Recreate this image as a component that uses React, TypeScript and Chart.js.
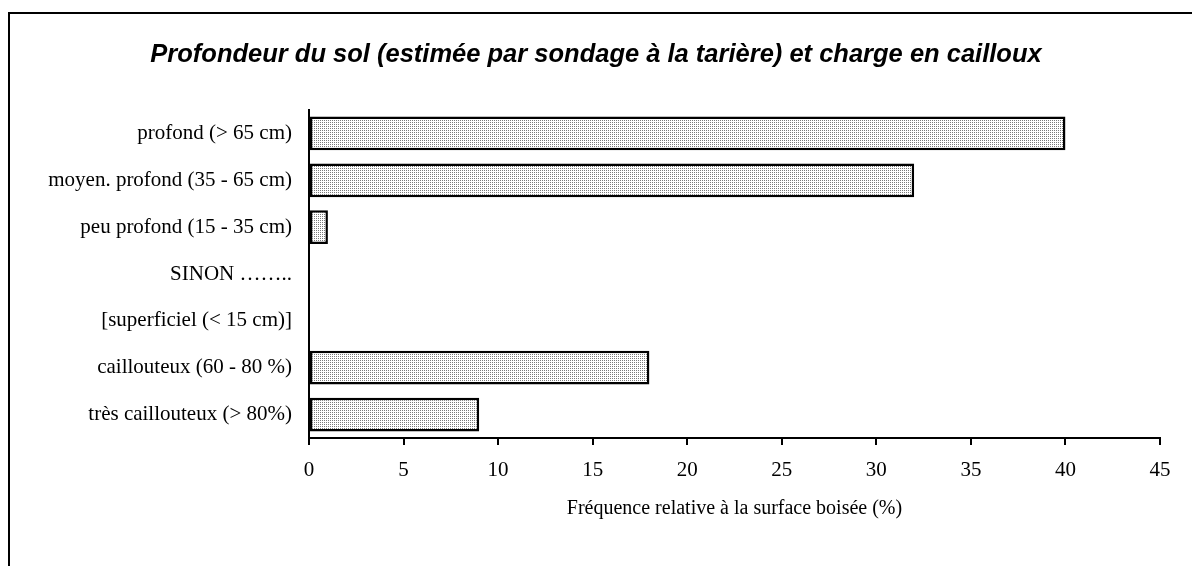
import React, { useEffect, useRef } from "react";
import { Chart, registerables } from "chart.js";

Chart.register(...registerables);

const chartTitle = "Profondeur du sol (estimée par sondage à la tarière) et charge en cailloux";
const xAxisTitle = "Fréquence relative à la surface boisée (%)";
const categories = [
  "profond (> 65 cm)",
  "moyen. profond (35 - 65 cm)",
  "peu profond (15 - 35 cm)",
  "SINON ……..",
  "[superficiel (< 15 cm)]",
  "caillouteux (60 - 80 %)",
  "très caillouteux (> 80%)",
];
const frequencies = [40, 32, 1, 0, 0, 18, 9];
const xMin = 0;
const xMax = 45;
const xStep = 5;

function makePattern(): CanvasPattern | string {
  const c = document.createElement("canvas");
  c.width = 2;
  c.height = 2;
  const ctx = c.getContext("2d");
  if (!ctx) return "#d8d8d8";
  ctx.fillStyle = "#ffffff";
  ctx.fillRect(0, 0, 2, 2);
  ctx.fillStyle = "#7a7a7a";
  ctx.fillRect(0, 0, 1, 1);
  const p = ctx.createPattern(c, "repeat");
  return p || "#d8d8d8";
}

export default function App() {
  const canvasRef = useRef<HTMLCanvasElement | null>(null);

  useEffect(() => {
    const canvas = canvasRef.current;
    if (!canvas) return;
    const serif = "'Liberation Serif', 'Times New Roman', serif";
    const chart = new Chart(canvas, {
      type: "bar",
      data: {
        labels: categories,
        datasets: [
          {
            data: frequencies,
            backgroundColor: makePattern() as any,
            borderColor: "#000000",
            borderWidth: 2.5,
            borderSkipped: false,
            barPercentage: 0.72,
            categoryPercentage: 1,
          },
        ],
      },
      options: {
        indexAxis: "y",
        responsive: false,
        animation: false,
        devicePixelRatio: 1,
        layout: { padding: { left: 32, right: 32, top: 0, bottom: 0 } },
        plugins: {
          legend: { display: false },
          tooltip: { enabled: false },
          title: {
            display: true,
            text: chartTitle,
            color: "#000000",
            font: { family: "'Liberation Sans', Arial, sans-serif", size: 25.5, weight: "bold", style: "italic" },
            padding: { top: 39.7, bottom: 39.7 },
          },
        },
        scales: {
          x: {
            type: "linear",
            min: xMin,
            max: xMax,
            afterFit: (scale: any) => {
              scale.height = 128;
            },
            ticks: {
              stepSize: xStep,
              color: "#000000",
              padding: 13,
              font: { family: serif, size: 21 },
            },
            grid: {
              display: true,
              drawOnChartArea: false,
              drawTicks: true,
              tickLength: 7,
              color: "#000000",
              lineWidth: 2,
            },
            border: { display: true, color: "#000000", width: 2 },
            title: {
              display: true,
              text: xAxisTitle,
              color: "#000000",
              font: { family: serif, size: 20 },
              padding: { top: 0, bottom: 45 },
            },
          },
          y: {
            type: "category",
            afterFit: (scale: any) => {
              scale.width = 277;
            },
            ticks: {
              color: "#000000",
              padding: 17,
              font: { family: serif, size: 21 },
            },
            grid: { display: false, drawTicks: false },
            border: { display: true, color: "#000000", width: 2 },
          },
        },
      },
    } as any);
    return () => chart.destroy();
  }, []);

  return (
    <div>
      <canvas
        ref={canvasRef}
        width={1192}
        height={566}
        style={{ position: "fixed", left: 0, top: 0, width: 1192, height: 566, background: "#ffffff" }}
      />
      <div
        style={{
          position: "fixed",
          left: 8,
          top: 12,
          width: 2000,
          height: 2000,
          border: "2px solid #000000",
          pointerEvents: "none",
        }}
      />
    </div>
  );
}
